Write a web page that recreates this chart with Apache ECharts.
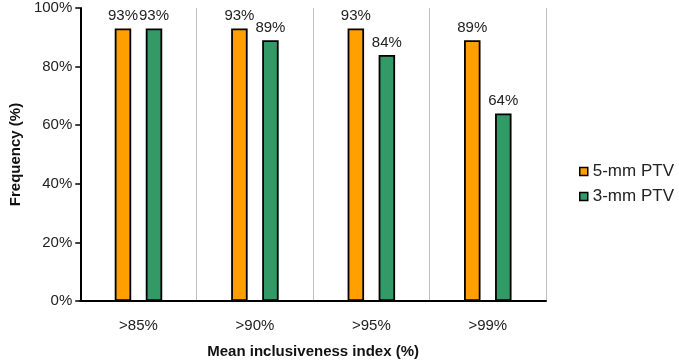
<!DOCTYPE html>
<html>
<head>
<meta charset="utf-8">
<script src="https://cdn.jsdelivr.net/npm/echarts@6/dist/echarts.min.js"></script>
<style>html,body{margin:0;padding:0;background:#fff}#c{width:679px;height:364px}</style>
</head>
<body>
<div id="c"></div>
<script>
var categories = ['>85%', '>90%', '>95%', '>99%'];
var ptv5 = [93, 93, 93, 89];
var ptv3 = [93, 89, 84, 64];
var yTicks = [0, 20, 40, 60, 80, 100];

var chart = echarts.init(document.getElementById('c'));
var FONT = '"Liberation Sans", Arial, sans-serif';
function barSeries(name, data, color) {
  return {
    name: name,
    type: 'bar',
    data: data,
    barWidth: 16.5,
    barGap: '88%',
    itemStyle: { color: color, borderColor: '#000', borderWidth: 1.8 },
    label: { show: true, position: 'top', distance: 5, formatter: '{c}%', color: '#222', fontSize: 15, fontFamily: FONT }
  };
}
chart.setOption({
  animation: false,
  textStyle: { fontFamily: FONT },
  grid: { left: 76, right: 133, top: 8, bottom: 54 },
  legend: {
    orient: 'vertical',
    left: 574,
    top: 158,
    itemWidth: 8,
    itemHeight: 8,
    itemGap: 8,
    icon: 'rect',
    textStyle: { fontSize: 17, color: '#222', fontFamily: FONT },
    data: [
      { name: '5-mm PTV', itemStyle: { color: '#FFA000', borderColor: '#000', borderWidth: 1.5 } },
      { name: '3-mm PTV', itemStyle: { color: '#339966', borderColor: '#000', borderWidth: 1.5 } }
    ]
  },
  xAxis: {
    type: 'category',
    data: categories,
    name: 'Mean inclusiveness index (%)',
    nameLocation: 'middle',
    nameGap: 43,
    nameTextStyle: { fontSize: 15, fontWeight: 'bold', color: '#111', fontFamily: FONT },
    axisLine: { lineStyle: { color: '#000', width: 2 } },
    axisTick: { show: false },
    axisLabel: { fontSize: 15, color: '#222', margin: 17, fontFamily: FONT },
    splitLine: { show: true, interval: 0, lineStyle: { color: '#BFBFBF', width: 1 } }
  },
  yAxis: {
    type: 'value',
    min: yTicks[0],
    max: yTicks[yTicks.length - 1],
    interval: 20,
    name: 'Frequency (%)',
    nameLocation: 'middle',
    nameGap: 55,
    nameTextStyle: { fontSize: 15, fontWeight: 'bold', color: '#111', fontFamily: FONT },
    axisLine: { show: true, lineStyle: { color: '#000', width: 2 } },
    axisTick: { show: true, length: 5, lineStyle: { color: '#000', width: 1.5 } },
    axisLabel: { fontSize: 15, color: '#222', margin: 8, formatter: '{value}%', fontFamily: FONT },
    splitLine: { show: false }
  },
  series: [
    barSeries('5-mm PTV', ptv5, '#FFA000'),
    barSeries('3-mm PTV', ptv3, '#339966')
  ]
});
</script>
</body>
</html>
